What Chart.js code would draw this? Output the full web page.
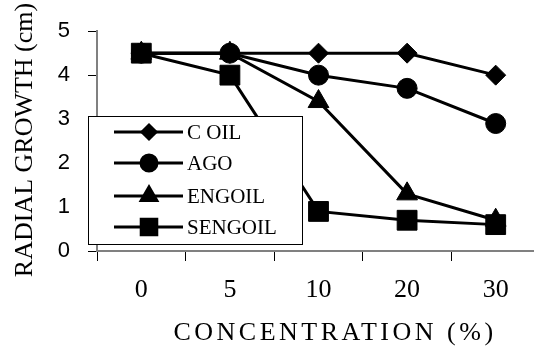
<!DOCTYPE html>
<html>
<head>
<meta charset="utf-8">
<script src="https://cdn.jsdelivr.net/npm/chart.js@4/dist/chart.umd.min.js"></script>
<style>
  html, body { margin: 0; padding: 0; background: #fff; overflow: hidden; }
  #wrap { width: 541px; height: 352px; }
</style>
</head>
<body>
<div id="wrap"><canvas id="chart" width="541" height="352"></canvas></div>
<script>
const concentrations = ["0", "5", "10", "20", "30"];
const cOil = [4.5, 4.5, 4.5, 4.5, 4.0];
const ago = [4.5, 4.5, 4.0, 3.7, 2.9];
const engoil = [4.5, 4.5, 3.4, 1.3, 0.7];
const sengoil = [4.5, 4.0, 0.9, 0.7, 0.6];
const yTicks = [0, 1, 2, 3, 4, 5];

const seriesNames = ["C OIL", "AGO", "ENGOIL", "SENGOIL"];
const markers = ["rectRot", "circle", "triangle", "rect"];
const markerSize = [10, 10, 12, 14];
const legendSize = [7, 8, 9, 11];

// legend box like the excel one, drawn over the lines
const legendBox = {
  id: "legendBox",
  afterDatasetsDraw(chart) {
    const ctx = chart.ctx;
    ctx.save();
    ctx.fillStyle = "#fff";
    ctx.strokeStyle = "#000";
    ctx.lineWidth = 1;
    ctx.fillRect(88, 116, 214, 128);
    ctx.strokeRect(88.5, 116.5, 214, 128);
    const rows = [132, 163, 196, 227];
    seriesNames.forEach((name, i) => {
      const y = rows[i];
      ctx.strokeStyle = "#000";
      ctx.lineWidth = 3;
      ctx.beginPath();
      ctx.moveTo(114, y);
      ctx.lineTo(183, y);
      ctx.stroke();
      ctx.fillStyle = "#000";
      Chart.helpers.drawPoint(ctx, { pointStyle: markers[i], radius: legendSize[i], borderWidth: 1 }, 149, y);
      ctx.fillStyle = "#000";
      ctx.font = "21px 'Liberation Serif'";
      ctx.textBaseline = "middle";
      ctx.textAlign = "left";
      ctx.fillText(name, 187, y + 1);
    });
    ctx.restore();
  }
};

// axis titles
const axisTitles = {
  id: "axisTitles",
  afterDraw(chart) {
    const ctx = chart.ctx;
    ctx.save();
    ctx.fillStyle = "#000";
    ctx.font = "26px 'Liberation Serif'";
    ctx.textAlign = "center";
    ctx.textBaseline = "middle";
    ctx.translate(25, 140);
    ctx.rotate(-Math.PI / 2);
    ctx.fillText("RADIAL GROWTH (cm)", 0, 0);
    ctx.restore();

    ctx.save();
    ctx.fillStyle = "#000";
    ctx.font = "26px 'Liberation Serif'";
    ctx.letterSpacing = "3.5px";
    ctx.textAlign = "center";
    ctx.textBaseline = "middle";
    ctx.fillText("CONCENTRATION (%)", 335, 333);
    ctx.restore();
  }
};

function ds(label, data, i, order) {
  return {
    label: label,
    data: data,
    borderColor: "#000",
    backgroundColor: "#000",
    borderWidth: 3,
    pointStyle: markers[i],
    pointRadius: markerSize[i],
    pointBorderWidth: 1,
    pointBackgroundColor: "#000",
    pointBorderColor: "#000",
    tension: 0,
    order: order
  };
}

new Chart(document.getElementById("chart"), {
  type: "line",
  data: {
    labels: concentrations,
    datasets: [
      ds(seriesNames[0], cOil, 0, 3),
      ds(seriesNames[1], ago, 1, 1),
      ds(seriesNames[2], engoil, 2, 2),
      ds(seriesNames[3], sengoil, 3, 0)
    ]
  },
  options: {
    responsive: false,
    animation: false,
    layout: { autoPadding: false, padding: { top: 28, right: 1, left: 0, bottom: 0 } },
    plugins: { legend: { display: false }, tooltip: { enabled: false } },
    scales: {
      x: {
        offset: true,
        grid: { drawOnChartArea: false, offset: true, color: "#000", tickLength: 10, lineWidth: 1 },
        border: { color: "#808080", width: 2 },
        ticks: { color: "#000", padding: 14, font: { family: "'Liberation Serif'", size: 26 } },
        afterFit(scale) { scale.height = 101; }
      },
      y: {
        min: 0,
        max: 5,
        afterBuildTicks(scale) { scale.ticks = yTicks.map(v => ({ value: v })); },
        grid: { drawOnChartArea: false, color: "#000", tickLength: 9, lineWidth: 1 },
        border: { color: "#808080", width: 2 },
        ticks: { color: "#000", padding: 18, font: { family: "'Liberation Sans'", size: 22 } },
        afterFit(scale) { scale.width = 97; }
      }
    }
  },
  plugins: [legendBox, axisTitles]
});
</script>
</body>
</html>
